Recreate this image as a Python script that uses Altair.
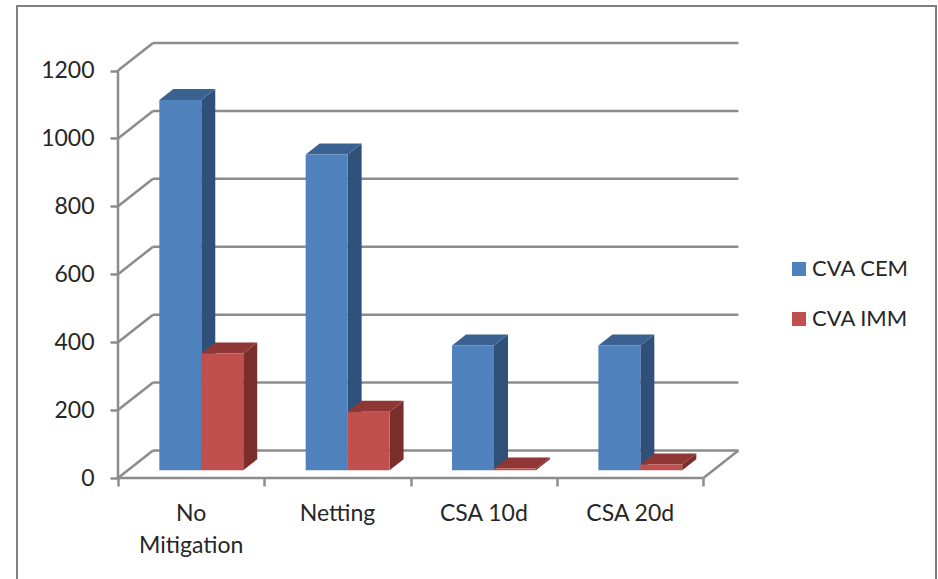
import altair as alt
import pandas as pd

# Chart values
categories = ["No\nMitigation", "Netting", "CSA 10d", "CSA 20d"]
series_names = ["CVA CEM", "CVA IMM"]
cva_cem = [1090, 930, 367, 367]
cva_imm = [344, 172, 5, 17]
y_ticks = [0, 200, 400, 600, 800, 1000, 1200]

# Colours
front_colors = ["#4F81BD", "#C0504D"]
side_colors = ["#2F5078", "#7B2F2D"]
top_colors = ["#3A6190", "#8E3735"]
GRID = "#8C8C8C"
TEXT = "#262626"
FONT = "Lato"

# Pseudo-3D geometry, in axis units (x: categories, y: CVA)
WALL_DX, WALL_DY = 0.2393, 81
BAR_DX, BAR_DY = 0.0957, 32.4
BAR_LIFT = 23
BAR_START, BAR_W = 0.2824, 0.2866
N = len(categories)

fronts, sides, tops = [], [], []
for s, values in enumerate([cva_cem, cva_imm]):
    for c, v in enumerate(values):
        x0 = c + BAR_START + s * BAR_W
        x1 = x0 + BAR_W
        y0, y1 = BAR_LIFT, BAR_LIFT + v
        bar = f"{s}-{c}"
        fronts.append(dict(series=series_names[s], x0=x0, x1=x1, y0=y0, y1=y1))
        sides.append(dict(bar=bar, fill=side_colors[s], x=x1, lo=y0, hi=y1))
        sides.append(dict(bar=bar, fill=side_colors[s], x=x1 + BAR_DX, lo=y0 + BAR_DY, hi=y1 + BAR_DY))
        tops.append(dict(bar=bar, fill=top_colors[s], y=y1, l=x0, r=x1))
        tops.append(dict(bar=bar, fill=top_colors[s], y=y1 + BAR_DY, l=x0 + BAR_DX, r=x1 + BAR_DX))

# Wall and floor lines
lines = [dict(x=WALL_DX, x2=N + WALL_DX, y=t + WALL_DY, y2=t + WALL_DY) for t in y_ticks]
lines += [dict(x=0, x2=WALL_DX, y=t, y2=t + WALL_DY) for t in y_ticks]
lines += [
    dict(x=0, x2=0, y=0, y2=y_ticks[-1]),
    dict(x=0, x2=N, y=0, y2=0),
    dict(x=N, x2=N + WALL_DX, y=0, y2=WALL_DY),
]

xs = alt.Scale(domain=[0, 4.25], nice=False, zero=False)
ys = alt.Scale(domain=[0, 1284], nice=False, zero=False)

# One axis definition per direction, shared by every layer
x_axis = alt.Axis(
    values=list(range(N + 1)), labels=False, domain=False, grid=False, title=None,
    tickSize=8, tickWidth=2.5, tickColor=GRID,
)
y_axis = alt.Axis(
    values=y_ticks, format="d", domain=False, grid=False, title=None,
    tickSize=8, tickWidth=2.5, tickColor=GRID,
    labelFont=FONT, labelFontSize=23, labelColor=TEXT, labelPadding=16,
)


def ex(field):
    return alt.X(field, scale=xs, axis=x_axis)


def ey(field):
    return alt.Y(field, scale=ys, axis=y_axis)


# Outer chart-area border; its bottom edge runs past the canvas
frame = alt.Chart(pd.DataFrame({"k": [0]})).mark_rect(
    filled=False, stroke="#808080", strokeWidth=2
).encode(x=alt.value(-101), x2=alt.value(818), y=alt.value(-36), y2=alt.value(560))

grid = alt.Chart(pd.DataFrame(lines)).mark_rule(color=GRID, strokeWidth=2.5).encode(
    x=ex("x:Q"), x2="x2:Q", y=ey("y:Q"), y2="y2:Q"
)

side = alt.Chart(pd.DataFrame(sides)).mark_area().encode(
    x=ex("x:Q"), y=ey("lo:Q"), y2="hi:Q",
    color=alt.Color("fill:N", scale=None), detail="bar:N",
)

top = alt.Chart(pd.DataFrame(tops)).mark_area(orient="horizontal").encode(
    y=ey("y:Q"), x=ex("l:Q"), x2="r:Q",
    color=alt.Color("fill:N", scale=None), detail="bar:N",
)

front = alt.Chart(pd.DataFrame(fronts)).mark_rect().encode(
    x=ex("x0:Q"), x2="x1:Q",
    y=ey("y0:Q"), y2="y1:Q",
    color=alt.Color("series:N", scale=alt.Scale(domain=series_names, range=front_colors),
        legend=alt.Legend(
            title=None, orient="none", legendX=670, legendY=216, symbolType="square",
            symbolSize=196, symbolStrokeWidth=0, labelFont=FONT, labelFontSize=22,
            labelColor=TEXT, rowPadding=28, labelOffset=2, padding=0)),
)

labels = alt.Chart(pd.DataFrame({"label": categories, "x": [c + 0.5 for c in range(N)]})).mark_text(
    font=FONT, fontSize=23, color=TEXT, lineBreak="\n", lineHeight=32, baseline="top", align="center"
).encode(x=ex("x:Q"), y=alt.value(461), text="label:N")

chart = alt.layer(frame, grid, side, top, front, labels).properties(
    width=622, height=436,
    padding={"left": 118, "top": 42, "right": 198, "bottom": 101},
    autosize=alt.AutoSizeParams(type="none"),
    background="white",
).resolve_scale(color="independent").configure_view(stroke=None)

chart.save("out.html", embed_options={"renderer": "svg", "actions": False})
